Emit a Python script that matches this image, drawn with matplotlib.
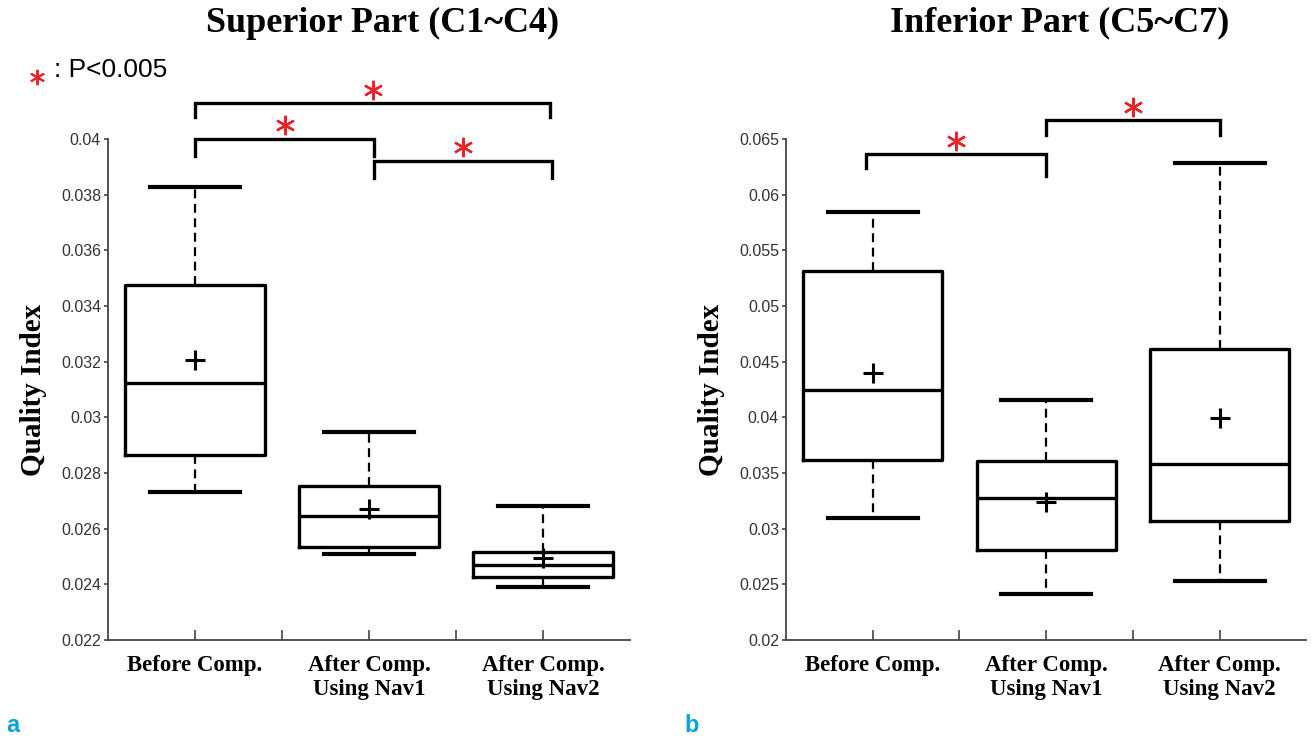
import matplotlib
matplotlib.use("Agg")
import matplotlib.pyplot as plt

GROUPS = ["Before Comp.", "After Comp.\nUsing Nav1", "After Comp.\nUsing Nav2"]

# superior part (C1~C4): whisker low, Q1, median, Q3, whisker high, mean
SUP_LOW = [0.0273, 0.0251, 0.0239]
SUP_Q1 = [0.02864, 0.02534, 0.02426]
SUP_MED = [0.03123, 0.02645, 0.02469]
SUP_Q3 = [0.03475, 0.02755, 0.02516]
SUP_HIGH = [0.03828, 0.02948, 0.02680]
SUP_MEAN = [0.03205, 0.02670, 0.02494]

# inferior part (C5~C7)
INF_LOW = [0.03096, 0.02413, 0.0253]
INF_Q1 = [0.03617, 0.02808, 0.03069]
INF_MED = [0.04245, 0.03275, 0.0358]
INF_Q3 = [0.05314, 0.03608, 0.04613]
INF_HIGH = [0.05844, 0.04155, 0.06284]
INF_MEAN = [0.0440, 0.0324, 0.03995]

# significance brackets: (from group, to group, bar level, leg end left, leg end right)
SUP_BRACKETS = [(1.0, 3.04, 0.04129, 0.04079, 0.04079),
                (1.0, 2.03, 0.04000, 0.03939, 0.03939),
                (2.03, 3.05, 0.03921, 0.03860, 0.03860)]
INF_BRACKETS = [(0.96, 2.0, 0.06364, 0.0624, 0.0617),
                (2.0, 3.0, 0.0667, 0.06535, 0.06535)]

SUP_TICKS = [0.022, 0.024, 0.026, 0.028, 0.03, 0.032, 0.034, 0.036, 0.038, 0.04]
SUP_TICKLABELS = ["0.022", "0.024", "0.026", "0.028", "0.03", "0.032", "0.034", "0.036", "0.038", "0.04"]
INF_TICKS = [0.02, 0.025, 0.03, 0.035, 0.04, 0.045, 0.05, 0.055, 0.06, 0.065]
INF_TICKLABELS = ["0.02", "0.025", "0.03", "0.035", "0.04", "0.045", "0.05", "0.055", "0.06", "0.065"]

SERIF = ["Liberation Serif", "DejaVu Serif"]
SANS = ["Liberation Sans", "DejaVu Sans"]


def draw_panel(ax, low, q1, med, q3, high, mean, ticks, ticklabels, ylim, brackets):
    stats = []
    for i in range(len(GROUPS)):
        stats.append({"whislo": low[i], "q1": q1[i], "med": med[i], "q3": q3[i],
                      "whishi": high[i], "mean": mean[i], "fliers": []})
    ax.bxp(stats, positions=[1, 2, 3], widths=0.8, showmeans=True, showfliers=False,
           boxprops=dict(color="black", linewidth=2.4),
           medianprops=dict(color="black", linewidth=2.4),
           whiskerprops=dict(color="black", linewidth=1.6, linestyle=(0, (4, 2.5))),
           capprops=dict(color="black", linewidth=3),
           capwidths=0.52,
           meanprops=dict(marker="+", markersize=15, markeredgewidth=2.2,
                          markeredgecolor="black"))
    ax.set_xlim(0.5, 3.5)
    ax.set_ylim(*ylim)
    ax.set_yticks(ticks)
    ax.set_yticklabels(ticklabels, family=SANS, fontsize=11.5, color="#333333")
    ax.set_xticks([1, 2, 3])
    ax.set_xticklabels(GROUPS, family=SERIF, fontweight="bold", fontsize=16.5,
                       linespacing=1.2)
    ax.set_xticks([1.5, 2.5], minor=True)
    ax.tick_params(axis="x", which="both", direction="in", length=7, width=1.2,
                   color="#444444", pad=11)
    ax.tick_params(axis="y", direction="out", length=3, width=1.2, color="#444444", pad=2)
    for s in ["top", "right"]:
        ax.spines[s].set_visible(False)
    for s in ["left", "bottom"]:
        ax.spines[s].set_linewidth(1.3)
        ax.spines[s].set_color("#444444")
    ax.set_ylabel("Quality Index", family=SERIF, fontweight="bold", fontsize=21, labelpad=10)

    # significance brackets above the boxes
    span = ylim[1] - ylim[0]
    for x0, x1, top, leg0, leg1 in brackets:
        ax.plot([x0, x0, x1, x1], [leg0, top, top, leg1], color="black", linewidth=2.4,
                clip_on=False, solid_joinstyle="miter")
        ax.plot([(x0 + x1) / 2], [top + span * 0.027], marker=(6, 2, 0), markersize=14,
                markeredgewidth=1.7, color="#e8232a", clip_on=False)


fig = plt.figure(figsize=(13.11, 7.41), dpi=100)
ax1 = fig.add_axes([0.0824, 0.1363, 0.3982, 0.6761])
ax2 = fig.add_axes([0.5995, 0.1363, 0.3970, 0.6761])

draw_panel(ax1, SUP_LOW, SUP_Q1, SUP_MED, SUP_Q3, SUP_HIGH, SUP_MEAN,
           SUP_TICKS, SUP_TICKLABELS, (0.022, 0.04), SUP_BRACKETS)
draw_panel(ax2, INF_LOW, INF_Q1, INF_MED, INF_Q3, INF_HIGH, INF_MEAN,
           INF_TICKS, INF_TICKLABELS, (0.02, 0.065), INF_BRACKETS)

fig.text(383 / 1311, 1 - 23 / 741, "Superior Part (C1~C4)", family=SERIF,
         fontweight="bold", fontsize=26, ha="center", va="center")
fig.text(1060 / 1311, 1 - 23 / 741, "Inferior Part (C5~C7)", family=SERIF,
         fontweight="bold", fontsize=26, ha="center", va="center")

# legend for the asterisk
fig.lines.append(plt.Line2D([37 / 1311], [1 - 77 / 741], transform=fig.transFigure,
                            marker=(6, 2, 0), markersize=11, markeredgewidth=1.4,
                            color="#e8232a"))
fig.text(54 / 1311, 1 - 70 / 741, ": P<0.005", family=SANS,
         fontsize=19, va="center", ha="left")

# panel letters
fig.text(6 / 1311, 4 / 741, "a", color="#0aa3d6", fontweight="bold", fontsize=17,
         family=SANS, va="bottom")
fig.text(684 / 1311, 4 / 741, "b", color="#0aa3d6", fontweight="bold", fontsize=17,
         family=SANS, va="bottom")

fig.savefig("out.png", dpi=100, facecolor="white")
